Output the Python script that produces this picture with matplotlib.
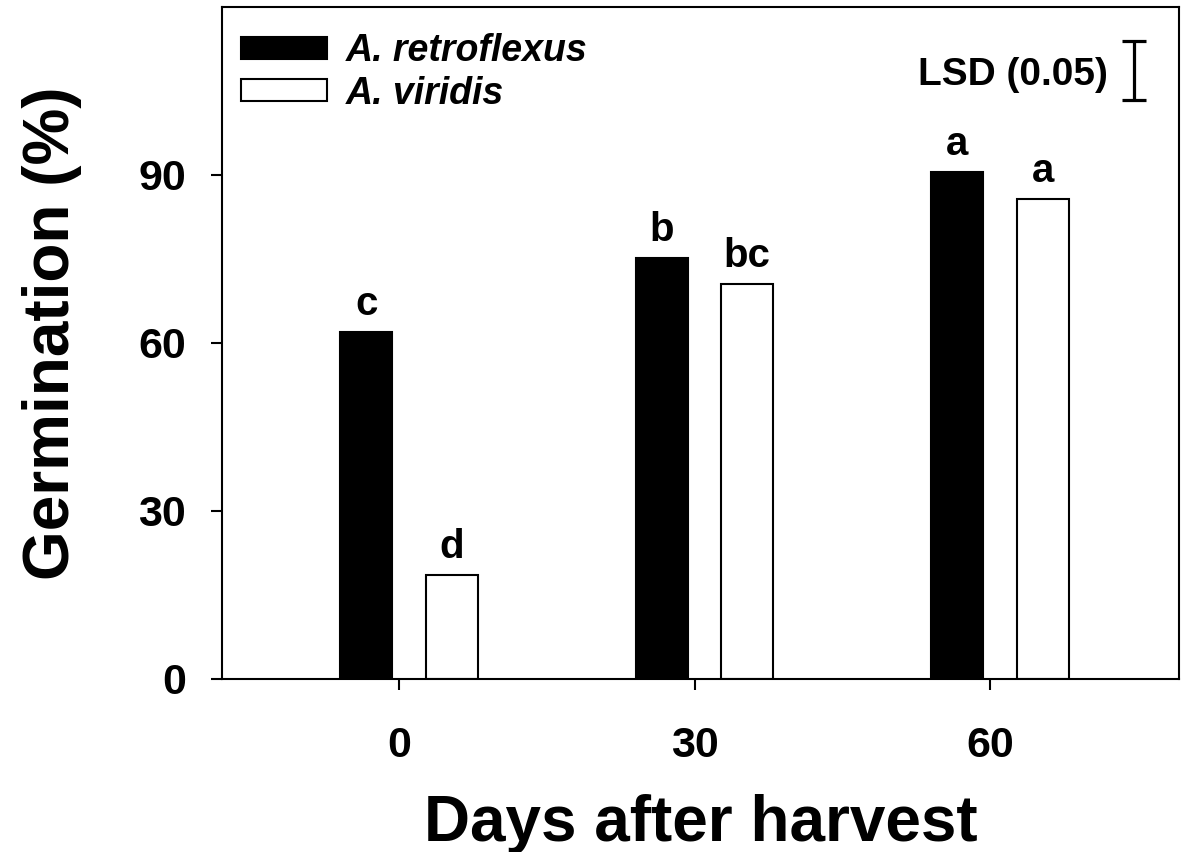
import numpy as np
import matplotlib.pyplot as plt

plt.rcParams['font.family'] = ['Liberation Sans', 'DejaVu Sans']
plt.rcParams['font.weight'] = 'bold'

days = [0, 30, 60]
retroflexus = [62.0, 75.2, 90.6]
viridis = [18.6, 70.6, 85.8]
letters_retro = ['c', 'b', 'a']
letters_viridis = ['d', 'bc', 'a']
lsd = 10.6

fig = plt.figure(figsize=(11.84, 8.52), dpi=100)
ax = fig.add_axes([222/1184, 1 - 679/852, 957/1184, 672/852])

x = np.array(days, dtype=float)
w = 5.3
off_b, off_w = -3.35, 5.35
ax.bar(x + off_b, retroflexus, width=w, color='black', edgecolor='black',
       linewidth=1.5, label='A. retroflexus')
ax.bar(x + off_w, viridis, width=w, color='white', edgecolor='black',
       linewidth=1.5, label='A. viridis')

# significance letters
for xi, v, t in zip(x + off_b, retroflexus, letters_retro):
    ax.text(xi, v + 1.6, t, ha='center', va='bottom', fontsize=29, fontweight='bold')
for xi, v, t in zip(x + off_w, viridis, letters_viridis):
    ax.text(xi, v + 1.6, t, ha='center', va='bottom', fontsize=29, fontweight='bold')

# LSD bar
ax.errorbar([74.6], [108.7], yerr=lsd / 2, fmt='none', ecolor='black',
            elinewidth=2.3, capsize=8.5, capthick=2.3)
ax.text(72.0, 107.9, 'LSD (0.05)', ha='right', va='center', fontsize=28, fontweight='bold')

ax.set_xlim(-18, 79.2)
ax.set_ylim(0, 120)
ax.set_xticks(days)
ax.set_yticks([0, 30, 60, 90])
ax.tick_params(direction='out', length=8, width=1.5, labelsize=31)
ax.tick_params(axis='y', pad=18)
ax.tick_params(axis='x', pad=26)
for lab in ax.get_xticklabels() + ax.get_yticklabels():
    lab.set_fontweight('bold')
for s in ax.spines.values():
    s.set_linewidth(1.5)

ax.set_xlabel('Days after harvest', fontsize=46, fontweight='bold')
ax.xaxis.set_label_coords(0.5, -0.171)
ax.set_ylabel('Germination (%)', fontsize=46, fontweight='bold')
ax.yaxis.set_label_coords(-0.146, 0.515)

leg = ax.legend(loc='upper left', bbox_to_anchor=(0.02, 0.961), frameon=False,
                prop={'size': 27, 'weight': 'bold', 'style': 'italic'},
                handlelength=2.3, handleheight=0.53, handletextpad=0.5,
                labelspacing=0.17, borderpad=0, borderaxespad=0)

fig.savefig('out.png', dpi=100)
